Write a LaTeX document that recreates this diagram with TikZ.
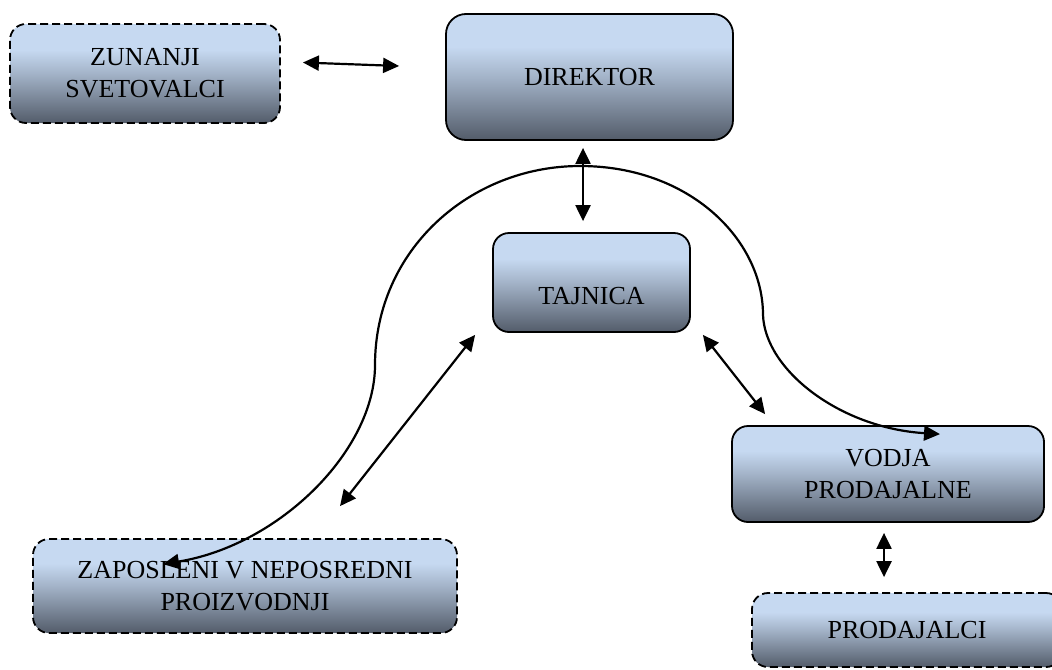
\documentclass[tikz,border=0pt]{standalone}
\usepackage{fontspec}
\setmainfont{Liberation Serif}
\usetikzlibrary{arrows.meta,calc}
\definecolor{boxtop}{HTML}{C6D9F1}
\definecolor{boxmid}{HTML}{A3B3C8}
\definecolor{boxbot}{HTML}{535C6A}
\pgfdeclareverticalshading{boxshade}{100bp}{color(0bp)=(boxbot); color(25bp)=(boxbot); color(50bp)=(boxmid); color(62bp)=(boxtop); color(75bp)=(boxtop); color(100bp)=(boxtop)}
\tikzset{
  orgbox/.style={draw=black, line width=0.9pt, rounded corners=8pt, shading=boxshade,
    align=center, font=\fontsize{13pt}{16pt}\selectfont, inner sep=0pt},
  dashbox/.style={orgbox, dash pattern=on 4pt off 2pt},
  arr/.style={{Triangle[length=8pt,width=7.5pt]}-{Triangle[length=8pt,width=7.5pt]}, line width=1.1pt},
  lbl/.style={font=\fontsize{13pt}{16pt}\selectfont, inner sep=0pt}
}
\begin{document}
\begin{tikzpicture}[x=0.5pt,y=-0.5pt]
\useasboundingbox (0,0) rectangle (1052,669);
\clip (0,0) rectangle (1052,669);
\node[dashbox, minimum width=135pt, minimum height=49.5pt] (zun) at (145,73.5) {ZUNANJI\\SVETOVALCI};
\node[orgbox, rounded corners=10pt, minimum width=143.5pt, minimum height=63pt] (dir) at (589.5,77) {DIREKTOR};
\node[orgbox, minimum width=98.5pt, minimum height=49.5pt] (taj) at (591.5,282.5) {};
\node[lbl] (tajt) at ($(taj.center)+(0,14)$) {TAJNICA};
\node[orgbox, minimum width=156pt, minimum height=48pt] (vod) at (888,474) {VODJA\\PRODAJALNE};
\node[dashbox, minimum width=155pt, minimum height=37pt] (pro) at (907,630) {PRODAJALCI};
\node[dashbox, minimum width=212pt, minimum height=47pt] (zap) at (245,586) {ZAPOSLENI V NEPOSREDNI\\PROIZVODNJI};

\draw[arr] ($(zun.east)+(22,-11)$) -- ($(dir.west)+(-46,-11)$);
\draw[arr] ($(dir.south)+(-6.5,7)$) -- ($(taj.north)+(-8.5,-11)$);
\draw[arr] ($(taj.south east)+(12,2)$) -- ($(vod.north west)+(34,-11)$);
\draw[arr] ($(zap.north)+(95,-32)$) -- ($(taj.south west)+(-17,2)$);
\draw[arr] ($(vod.south)+(-4,10)$) -- ($(pro.north)+(-23,-15)$);

\coordinate (cs) at ($(zap.north)+(-82,26)$);
\coordinate (ce) at ($(vod.north)+(52,9)$);
\draw[arr] (cs) .. controls (280,545) and (375,450) .. (375,365)
  .. controls (375,250) and (470,166) .. (580,166)
  .. controls (690,166) and (763,240) .. (763,315)
  .. controls (765,370) and (840,428) .. (ce);
\end{tikzpicture}
\end{document}
